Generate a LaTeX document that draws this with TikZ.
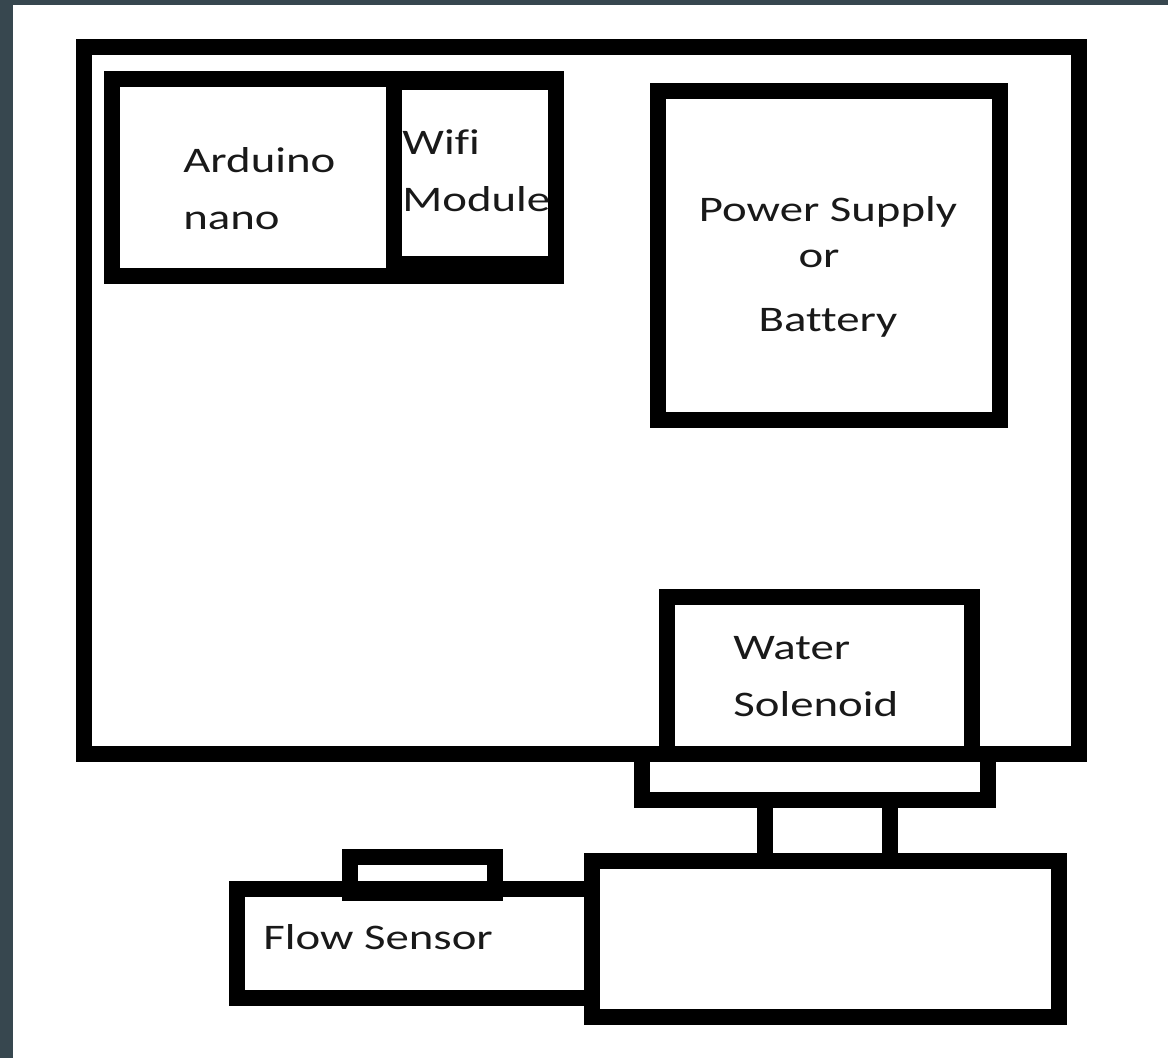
\documentclass[tikz,border=0pt]{standalone}
\usepackage{xcolor}
\usepackage{fontspec}
\usepackage{tikz}
\usetikzlibrary{positioning, fit}
\newfontfamily\lblfont{Carlito}[FakeStretch=1.3, Ligatures=NoCommon]
\definecolor{frameslate}{RGB}{55,71,79}

\begin{document}
\begin{tikzpicture}[
    x=0.5pt, y=-0.5pt,
    box/.style={draw, line width=7.75pt, inner sep=0pt, outer sep=0pt},
    lbl/.style={anchor=base west, inner sep=0pt, align=left, text=black!90,
                font=\lblfont\fontsize{18}{28.5}\selectfont}
  ]
  \useasboundingbox (0,0) rectangle (1168,1058);
  \fill[frameslate] (0,0) rectangle (13,1058);
  \fill[frameslate] (0,0) rectangle (1168,5);

  % enclosure and parts inside
  \node[box, fit={(84,47) (1079,754)}] (encl) {};
  \node[box, fit={(112,79) (556,276)}] (ctrl) {};
  \node[box, fit={(112,79) (394,276)}] (arduino) {};
  \node[box, fit={(394,82) (556,264)}] (wifi) {};
  \node[box, fit={(658,91) (1000,420)}] (power) {};
  \node[box, fit={(667,597) (972,754)}] (solenoid) {};

  % valve and pipe below
  \node[box, fit={(642,754) (988,800)}] (flange) {};
  \node[box, fit={(765,800) (890,861)}] (stem) {};
  \node[box, fit={(592,861) (1059,1017)}] (body) {};
  \node[box, fit={(237,889) (592,998)}] (flow) {};
  \node[box, fit={(350,857) (495,893)}] (bump) {};

  % labels, placed by the baseline of their last line
  \node[lbl] (arduinotxt) at (183,230) {Arduino\\nano};
  \node[lbl] (wifitxt) at (402,212) {Wifi\\Module};
  \node[lbl, anchor=base, align=center] (powertxt) at (828,332)
    {Power Supply\\[-5.5pt]or\rule{9pt}{0pt}\\[3.5pt]Battery};
  \node[lbl] (soltxt) at (733,717) {Water\\Solenoid};
  \node[lbl] (flowtxt) at (263,949) {Flow Sensor};
\end{tikzpicture}
\end{document}
